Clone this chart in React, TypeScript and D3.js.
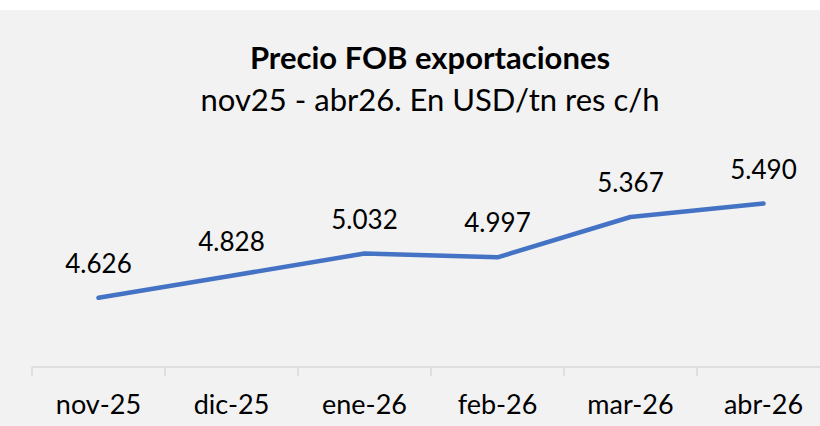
import React from "react";
import * as d3 from "d3";

const categories = ["nov-25", "dic-25", "ene-26", "feb-26", "mar-26", "abr-26"];
const values = [4626, 4828, 5032, 4997, 5367, 5490];
const title = "Precio FOB exportaciones";
const subtitle = "nov25 - abr26. En USD/tn res c/h";

const W = 820;
const H = 426;
const FONT = "Lato, 'Open Sans', sans-serif";

const locale = d3.formatLocale({ decimal: ",", thousands: ".", grouping: [3], currency: ["$", ""] });
const fmt = locale.format(",d");

export default function App() {
  const x = d3.scaleBand<string>().domain(categories).range([32, 830]).padding(0);
  const y = d3.scaleLinear().domain([4000, 6000]).range([366, 148]);
  const axisY = 367;
  const line = d3
    .line<number>()
    .x((_, i) => (x(categories[i]) as number) + x.bandwidth() / 2)
    .y((d) => y(d));

  const tickXs = categories.map((c) => x(c) as number).concat([830]);

  return (
    <svg
      width={W}
      height={H}
      style={{ position: "absolute", left: 0, top: 0, display: "block" }}
      fontFamily={FONT}
    >
      <rect x={0} y={0} width={W} height={H} fill="#ffffff" />
      <rect x={0} y={10} width={W} height={H - 10} fill="#f2f2f2" />
      <text x={430} y={69} textAnchor="middle" fontSize={31} fontWeight="bold" fill="#000">
        {title}
      </text>
      <text x={430} y={111} textAnchor="middle" fontSize={31} fill="#000">
        {subtitle}
      </text>
      <line x1={32} x2={830} y1={axisY} y2={axisY} stroke="#d9d9d9" strokeWidth={1.5} />
      {tickXs.map((tx, i) => (
        <line key={i} x1={tx} x2={tx} y1={axisY} y2={axisY + 9} stroke="#d9d9d9" strokeWidth={1.5} />
      ))}
      {categories.map((c) => (
        <text
          key={c}
          x={(x(c) as number) + x.bandwidth() / 2}
          y={414}
          textAnchor="middle"
          fontSize={27}
          fill="#000"
        >
          {c}
        </text>
      ))}
      <path
        d={line(values) || ""}
        fill="none"
        stroke="#4472c4"
        strokeWidth={4.5}
        strokeLinecap="round"
        strokeLinejoin="round"
      />
      {values.map((v, i) => (
        <text
          key={i}
          x={(x(categories[i]) as number) + x.bandwidth() / 2}
          y={y(v) - 25}
          textAnchor="middle"
          fontSize={26}
          fill="#000"
        >
          {fmt(v)}
        </text>
      ))}
    </svg>
  );
}
